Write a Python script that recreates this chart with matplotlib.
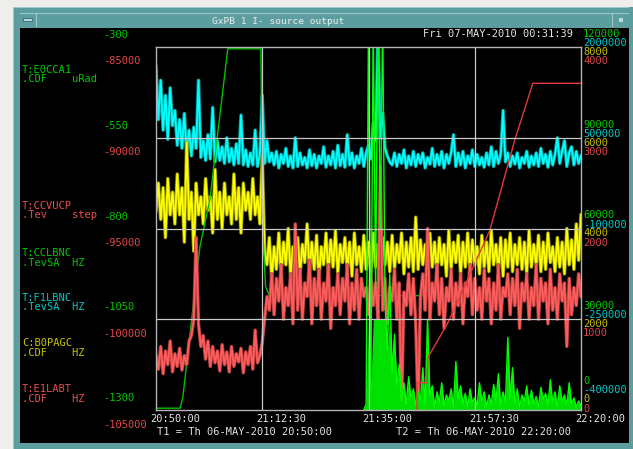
import numpy as np
import matplotlib
matplotlib.use("Agg")
import matplotlib.pyplot as plt
from matplotlib.patches import Rectangle
from matplotlib.transforms import blended_transform_factory, offset_copy

W, H = 633, 449
MONO = "DejaVu Sans Mono"
FS = 7.5

# ---- time axis: minutes after 20:50:00 ----
time_ticks = [0, 22.5, 45, 67.5, 90]
time_labels = ["20:50:00", "21:12:30", "21:35:00", "21:57:30", "22:20:00"]

# noisy channels, one sample every 0.5 min
t_noise = np.arange(181) * 0.5

# T:F1LBNC (cyan), thousands of Hz
f1lbnc_k = [
    1870, 1520, 1780, 1450, 1680, 1390, 1730, 1480, 1580, 1350,
    1520, 1330, 1560, 1300, 1450, 1280, 1470, 1330, 1780, 1270,
    1380, 1250, 1420, 1260, 1600, 1240, 1380, 1250, 1340, 1230,
    1400, 1240, 1330, 1220, 1360, 1230, 1550, 1220, 1320, 1210,
    1300, 1220, 1450, 1210, 1290, 1680, 1230, 1380, 1240, 1300,
    1220, 1310, 1200, 1290, 1230, 1330, 1210, 1280, 1200, 1400,
    1210, 1300, 1220, 1270, 1200, 1320, 1215, 1290, 1200, 1280,
    1230, 1340, 1205, 1280, 1220, 1310, 1200, 1350, 1215, 1290,
    1205, 1420, 1220, 1300, 1200, 1280, 1230, 1330, 1210, 1300,
    1350, 1260, 1500, 1380, 2100, 1400, 1560, 1330, 1280, 1240,
    1220, 1300, 1210, 1290, 1230, 1320, 1200, 1280, 1220, 1310,
    1210, 1290, 1230, 1300, 1200, 1270, 1225, 1330, 1210, 1290,
    1220, 1310, 1200, 1290, 1230, 1300, 1420, 1210, 1300, 1220,
    1310, 1200, 1280, 1230, 1320, 1210, 1290, 1220, 1270, 1205,
    1300, 1220, 1340, 1210, 1310, 1230, 1290, 1580, 1240, 1300,
    1210, 1280, 1225, 1300, 1200, 1270, 1230, 1310, 1205, 1280,
    1220, 1300, 1210, 1330, 1230, 1290, 1205, 1310, 1220, 1290,
    1400, 1230, 1310, 1380, 1210, 1300, 1340, 1220, 1310, 1230,
    1280]

# C:B0PAGC (yellow), Hz
b0pagc = [
    4400, 5000, 4200, 4900, 3800, 5100, 4300, 4800, 4100, 5200,
    4300, 4900, 3700, 5900, 4200, 4800, 3500, 5000, 4300, 4700,
    4100, 5100, 4400, 4700, 3900, 5300, 4200, 4800, 4000, 5000,
    4300, 4700, 4100, 5200, 4200, 4900, 3900, 5000, 4400, 4800,
    4200, 5100, 4300, 4700, 4100, 5600, 3500, 3200, 3800, 2900,
    3600, 3100, 3900, 3000, 3700, 3200, 4000, 2950, 3600, 3150,
    3800, 3000, 3650, 3250, 4100, 3050, 3700, 3100, 3850, 2900,
    3600, 3200, 3900, 3050, 3750, 3150, 3950, 3000, 3650, 3250,
    3800, 3100, 3700, 2950, 3900, 3200, 3600, 3050, 3850, 3100,
    3700, 3000, 3900, 3150, 3650, 2900, 3800, 3200, 3700, 3050,
    3850, 3100, 3650, 3250, 3900, 3000, 3700, 3150, 3800, 3050,
    4250, 3100, 3750, 3200, 3650, 3000, 3900, 3150, 3700, 3050,
    3800, 3200, 3650, 2950, 3950, 3100, 3700, 3250, 3850, 3000,
    3700, 3150, 3900, 3050, 3750, 3200, 3600, 3000, 3850, 3150,
    3700, 3050, 3950, 3200, 3650, 3100, 3800, 2950, 3750, 3150,
    3900, 3050, 3650, 3200, 3800, 3100, 3700, 3000, 3950, 3150,
    3650, 3200, 3850, 3050, 3700, 3100, 3900, 3250, 3600, 3050,
    3800, 3150, 3700, 3000, 4000, 3200, 3750, 3100, 4100, 3300,
    4300]

# T:E1LABT (red), Hz
e1labt = [
    600, 450, 700, 400, 650, 500, 760, 420, 620, 480,
    680, 440, 600, 500, 760, 820, 1000, 1900, 950, 700,
    820, 560, 760, 480, 700, 520, 650, 430, 720, 500,
    640, 420, 700, 480, 620, 530, 680, 410, 640, 500,
    700, 450, 880, 520, 600, 750, 1000, 1250, 1100, 1500,
    1050, 1450, 1200, 1600, 1000, 1350, 1150, 1500, 950, 2050,
    1100, 1550, 1000, 1400, 1250, 1650, 950, 1450, 1150, 1550,
    1000, 1400, 1200, 1600, 900, 1350, 1150, 1500, 1050, 1450,
    1200, 1600, 950, 1400, 1100, 1550, 1000, 1450, 1250, 1350,
    1050, 1500, 1150, 1400, 1000, 2680, 1100, 1450, 950, 1350,
    1200, 1550, 1000, 1400, 0, 1300, 1150, 1500, 1050, 1450,
    950, 0, 1250, 1500, 1100, 2000, 1000, 1400, 1200, 1600,
    1050, 1450, 900, 1350, 1200, 1550, 1000, 1400, 1150, 1500,
    950, 1400, 1250, 1600, 1050, 1450, 1100, 1350, 1000, 1550,
    1200, 1450, 950, 1400, 1100, 1600, 1000, 1350, 1250, 1500,
    1050, 1450, 1150, 1550, 900, 1400, 1200, 1500, 1000, 1350,
    1150, 1600, 1000, 1450, 1200, 1400, 950, 1550, 1100, 1350,
    1000, 1500, 1200, 1400, 700, 1450, 1050, 1350, 1150, 1500,
    1250]

# T:CCLBNC (green, right scale), from 21:34:00
t_lbnc = 44 + np.arange(93) * 0.5
cclbnc = [
    0, 2000,
    130000, 8000, 130000, 40000, 130000, 60000, 130000, 35000, 20000, 45000,
    12000, 25000, 8000, 15000, 3000, 9000, 2000, 11000, 4000, 7000,
    1500, 6000, 3000, 14000, 2000, 30000, 5000, 8000, 1000, 6000,
    2500, 9000, 1500, 5000, 3000, 7000, 1000, 16000, 4000, 8000,
    2000, 5500, 1000, 7000, 2500, 4000, 1500, 9000, 3000, 6000,
    1000, 5000, 2000, 8500, 3000, 12000, 1500, 6000, 2500, 24000,
    4000, 14000, 2000, 7000, 1000, 5000, 3000, 8000, 1500, 6500,
    2000, 4500, 1000, 7500, 3500, 5500, 1500, 10000, 2500, 6000,
    1000, 8000, 3000, 5000, 1500, 9000, 2000, 4000, 1000, 3000,
    1500]

# T:E0CCA1 (green, left scale), uRad
e0cca1_t = [0, 5.1, 5.7, 9.3, 11.4, 15.2, 22.2, 22.6, 23.2, 24.0, 90]
e0cca1_v = [-1295, -1295, -1264, -850, -721, -305, -305, -800, -960, -985, -985]

# T:CCVUCP (red thin, left scale), step
ccvucp_t = [0, 55.2, 55.3, 57.4, 57.6, 61.8, 70.7, 76.0, 79.8, 90]
ccvucp_v = [-106000, -106000, -103500, -103500, -102100, -100200, -95100, -90100, -87000, -87000]

# scale labels (top to bottom)
left_green = ["-300", "-550", "-800", "-1050", "-1300"]
left_red = ["-85000", "-90000", "-95000", "-100000", "-105000"]
right_green = ["120000", "90000", "60000", "30000", "0"]
right_cyan = ["2000000", "500000", "-100000", "-250000", "-400000"]
right_yellow = ["8000", "6000", "4000", "2000", "0"]
right_red = ["4000", "3000", "2000", "1000", "0"]

# channel names on the left
names = [("T:E0CCA1", ".CDF    uRad", "#00c800", 70),
         ("T:CCVUCP", ".Tev    step", "#e65050", 206),
         ("T:CCLBNC", ".TevSA  HZ", "#00c800", 253),
         ("T:F1LBNC", ".TevSA  HZ", "#00c8c8", 298),
         ("C:B0PAGC", ".CDF    HZ", "#c8c400", 343),
         ("T:E1LABT", ".CDF    HZ", "#e65050", 389)]

TEAL = "#5c9ea0"
LIGHT = "#9fcaca"
WHITE = "#e4e4e4"

fig = plt.figure(figsize=(W / 100, H / 100), dpi=100)
fig.patch.set_facecolor("#efeeea")


def rect(x0, y0, x1, y1, color, z=-5):
    fig.add_artist(Rectangle((x0 / W, 1 - y1 / H), (x1 - x0) / W, (y1 - y0) / H,
                             transform=fig.transFigure, facecolor=color,
                             edgecolor="none", zorder=z))


def ftext(x, y, s, color, size=FS, ha="left", z=3):
    fig.text(x / W, 1 - y / H, s, color=color, fontsize=size, family=MONO,
             ha=ha, va="center", zorder=z)


# window frame
rect(13, 7, 633, 449, TEAL, -6)
rect(13, 7, 633, 8, LIGHT, -5)
rect(13, 7, 14, 449, LIGHT, -5)
rect(20, 13, 629, 14, LIGHT, -5)
rect(36, 13, 37, 27, LIGHT, -5)
rect(612, 13, 613, 27, LIGHT, -5)
rect(23, 18, 33, 22, "#3f7779", -5)
rect(24, 19, 32, 21, "#b8dada", -5)
rect(619, 18, 623, 22, "#b8dada", -5)
rect(20, 28, 629, 443, "black", -4)
rect(629, 7, 633, 449, TEAL, 50)
ftext(278, 21, "GxPB 1 I- source output", "#eeeeee", size=6.8, ha="center")

# main plot frame / grid (drawn over the traces)
ax = fig.add_axes([156 / W, 1 - 410 / H, 425 / W, 363 / H])
ax.set_xlim(0, 90)
ax.set_ylim(0, 4)
ax.patch.set_visible(False)
ax.set_xticks([])
ax.set_yticks([])
for s in ax.spines.values():
    s.set_color("#b4b4b4")
    s.set_linewidth(1.0)
for xv in time_ticks[1:-1]:
    ax.axvline(xv, color="#c8c8c8", lw=0.9)
for yv in [1, 2, 3]:
    ax.axhline(yv, color="#c8c8c8", lw=0.9)


def channel_axis(lo, hi, z):
    a = ax.twinx()
    a.set_ylim(lo, hi)
    a.set_axis_off()
    a.set_zorder(z)
    return a


def noisy(a, t, v, dark, bright):
    # darker underlay fills the gaps of the zigzag like the dense scope trace
    a.plot(t, v, color=dark, lw=2.5)
    a.plot(t, v, color=bright, lw=1.3)


a_cyan = channel_axis(-400, 2000, 1)
noisy(a_cyan, t_noise, f1lbnc_k, "#009a9a", "#00ffff")

a_yel = channel_axis(0, 8000, 2)
noisy(a_yel, t_noise, b0pagc, "#9a9a00", "#ffff00")

a_e0 = channel_axis(-1300, -300, 3)
a_e0.plot(e0cca1_t, e0cca1_v, color="#00c000", lw=1.0)

a_red = channel_axis(0, 4000, 4)
noisy(a_red, t_noise, e1labt, "#b03c3c", "#ff5c5c")

a_lbnc = channel_axis(0, 120000, 5)
a_lbnc.fill_between(t_lbnc, 0, np.minimum(cclbnc, 30000), color="#00e000", lw=0)
a_lbnc.plot(t_lbnc, cclbnc, color="#00ff00", lw=1.0)

a_vucp = channel_axis(-105000, -85000, 6)
a_vucp.plot(ccvucp_t, ccvucp_v, color="#e03a3a", lw=1.0)

ax.set_zorder(20)

# scale labels
side = blended_transform_factory(fig.transFigure, ax.transAxes)


def scale_labels(x, labels, color, dy, dy_last=None):
    for i, lab in enumerate(labels):
        off = dy if (i < 4 or dy_last is None) else dy_last
        ax.text(x / W, 1 - i / 4, lab, color=color, fontsize=FS, family=MONO,
                ha="left", va="center",
                transform=offset_copy(side, x=0, y=off, units="dots"))


scale_labels(103, left_green, "#00c800", 12)
scale_labels(103, left_red, "#e64848", -14.5)
scale_labels(583, right_green, "#00c800", 13, 29.5)
scale_labels(583, right_cyan, "#00c8c8", 4, 20)
scale_labels(583, right_yellow, "#c8c000", -5, 10.5)
scale_labels(583, right_red, "#d84848", -14, 1.5)

# time labels
tx = offset_copy(ax.get_xaxis_transform(), x=-6, y=-9, units="dots")
for tv, lab in zip(time_ticks, time_labels):
    ax.text(tv, 0, lab, color=WHITE, fontsize=FS, family=MONO,
            ha="left", va="center", transform=tx)

ftext(423, 34, "Fri 07-MAY-2010 00:31:39", WHITE)
ftext(157, 432, "T1 = Th 06-MAY-2010 20:50:00", WHITE)
ftext(396, 432, "T2 = Th 06-MAY-2010 22:20:00", WHITE)

for n1, n2, col, y in names:
    ftext(22, y, n1, col)
    ftext(22, y + 9.5, n2, col)

fig.savefig("out.png", dpi=100, facecolor=fig.get_facecolor())
